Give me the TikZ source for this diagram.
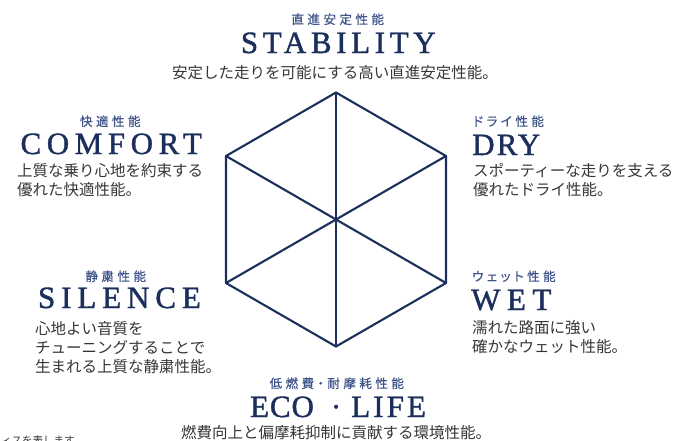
\documentclass[tikz,border=0pt]{standalone}
\usepackage{fontspec}
\setmainfont{Liberation Serif}
\newfontfamily\jp{Noto Sans CJK JP}
\newfontfamily\jplab[RawFeature=+palt,FakeBold=0.6]{Noto Sans CJK JP}
\newfontfamily\hd[FakeBold=1.3]{Liberation Serif}
\definecolor{navy}{HTML}{1C2E5C}
\definecolor{labblue}{HTML}{3F5589}
\definecolor{bodygray}{HTML}{363636}
\newcommand\trk[2]{{\addfontfeatures{LetterSpace=#1}#2}}
\tikzset{
  hexline/.style={draw=navy, line width=2.1pt, line join=round, line cap=round},
  lab/.style={text=labblue, inner sep=0pt, anchor=base,
    font=\jplab\fontsize{12.5}{12.5}\selectfont\addfontfeatures{LetterSpace=28}},
  head/.style={text=navy, inner sep=0pt, anchor=base, font=\hd\fontsize{31}{31}\selectfont},
  body/.style={text=bodygray, inner sep=0pt, anchor=base, font=\jp\fontsize{15.5}{19}\selectfont},
  note/.style={text=bodygray, inner sep=0pt, anchor=base west, font=\jp\fontsize{10.5}{12}\selectfont},
}
\begin{document}
\begin{tikzpicture}[x=1pt,y=-1pt]
\useasboundingbox (0,0) rectangle (675,440);
% hexagon
\coordinate (c)  at (336,219.5);
\coordinate (t)  at (336,92.5);
\coordinate (ur) at (446,156);
\coordinate (lr) at (446,283);
\coordinate (b)  at (336,346.5);
\coordinate (ll) at (226,283);
\coordinate (ul) at (226,156);
\draw[hexline] (t) -- (ur) -- (lr) -- (b) -- (ll) -- (ul) -- cycle;
\draw[hexline] (t) -- (b);
\draw[hexline] (ul) -- (lr);
\draw[hexline] (ur) -- (ll);
% STABILITY
\node[lab] (stabL) at (336,24) {直進安定性能\kern-3.5pt};
\node[head] (stabH) at (336,53) {\trk{15}{STABILITY}\kern-4.65pt};
\node[body] (stabB) at (335,78) {安定した走りを可能にする高い直進安定性能。};
% COMFORT
\node[lab] (comfL) at (108.5,126) {快適性能\kern-3.5pt};
\node[head] (comfH) at (108.5,154) {\trk{18}{COMFORT}\kern-5.58pt};
\node[body, anchor=base west] (comfB1) at (17,176) {上質な乗り心地を約束する};
\node[body, anchor=base west] (comfB2) at (17,195) {優れた快適性能。};
% DRY
\node[lab, anchor=base west] (dryL) at (473,126) {ドライ性能};
\node[head, anchor=base west] (dryH) at (472,155) {\trk{7}{DRY}};
\node[body, anchor=base west] (dryB1) at (473,176) {スポーティーな走りを支える};
\node[body, anchor=base west] (dryB2) at (473,195) {優れたドライ性能。};
% SILENCE
\node[lab] (silL) at (114,281) {静粛性能\kern-3.5pt};
\node[head] (silH) at (116.5,308) {\trk{19}{SILENCE}\kern-5.89pt};
\node[body, anchor=base west] (silB1) at (35,334) {心地よい音質を};
\node[body, anchor=base west] (silB2) at (35,353) {チューニングすることで};
\node[body, anchor=base west] (silB3) at (35,372) {生まれる上質な静粛性能。};
% WET
\node[lab, anchor=base west] (wetL) at (472,281) {ウェット性能};
\node[head, anchor=base west] (wetH) at (471,310) {\trk{21}{WET}};
\node[body, anchor=base west] (wetB1) at (472,333) {濡れた路面に強い};
\node[body, anchor=base west] (wetB2) at (472,352) {確かなウェット性能。};
% ECO LIFE
\node[lab] (ecoL) at (335,388) {低燃費・耐摩耗性能\kern-3.5pt};
\node[head] (ecoH) at (336.5,417) {\trk{3}{ECO}\kern 17pt·\kern 10pt\trk{10}{LIFE}\kern-3.1pt};
\node[body] (ecoB) at (336,438.5) {燃費向上と偏摩耗抑制に貢献する環境性能。};
% cut-off note (cut by the edge, as in the reference)
\node[note] (noteT) at (1,444) {ィスを表します};
\end{tikzpicture}
\end{document}
